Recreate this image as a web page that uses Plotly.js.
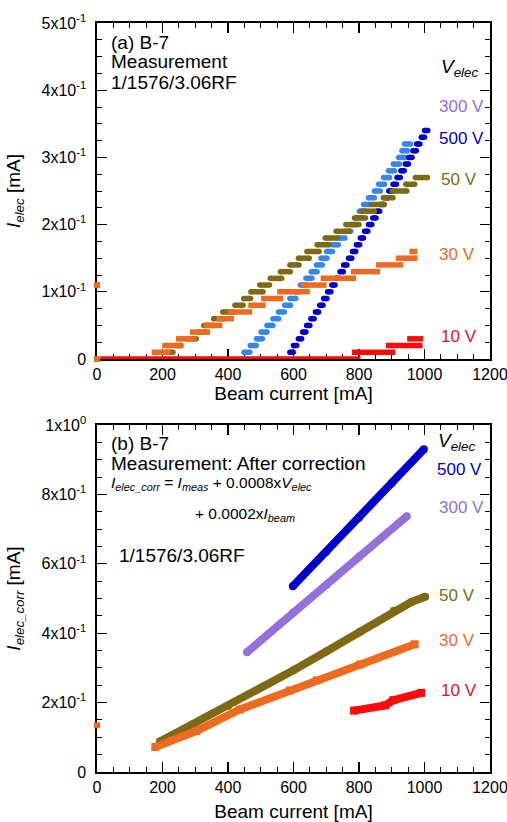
<!DOCTYPE html>
<html>
<head>
<meta charset="utf-8">
<script src="https://cdn.plot.ly/plotly-3.0.1.min.js"></script>
<style>html,body{margin:0;padding:0;background:#fff;}</style>
</head>
<body>
<div id="chart" style="width:507px;height:822px;"></div>
<script>
// ---------------- DATA: panel (a) measurement, quantised steps ----------------
// 10 V (red): step level [mA] and start/end beam current [mA]
const lv10 = [0, 0.01, 0.02, 0.03];
const st10 = [10, 778, 882, 947];
const en10 = [805, 910, 994, 996];
// 30 V (orange)
const lv30 = [0.01, 0.02, 0.03, 0.04, 0.05, 0.06, 0.07, 0.08, 0.09, 0.10, 0.11, 0.12, 0.13, 0.14, 0.15, 0.16];
const st30 = [167, 199, 241, 284, 325, 365, 399, 462, 501, 550, 622, 683, 775, 852, 912, 954];
const en30 = [225, 264, 304, 345, 383, 418, 474, 515, 569, 650, 701, 791, 864, 935, 978, 978];
const x30zero = [0, 0];
const y30zero = [0, 0.11];
// 50 V (olive)
const lv50 = [0.01, 0.02, 0.03, 0.04, 0.05, 0.06, 0.07, 0.08, 0.09, 0.10, 0.11, 0.12, 0.13, 0.14, 0.15, 0.16, 0.17, 0.18, 0.19, 0.20, 0.21, 0.22, 0.23, 0.24, 0.25, 0.26, 0.27];
const st50 = [213, 240, 278, 308, 326, 356, 384, 421, 448, 470, 497, 529, 560, 589, 615, 641, 672, 697, 730, 760, 786, 808, 838, 874, 901, 943, 972];
const en50 = [232, 256, 303, 332, 357, 388, 419, 446, 469, 507, 527, 564, 590, 617, 648, 678, 709, 734, 770, 800, 820, 847, 877, 904, 946, 970, 1009];
// 300 V (light blue): level and centre beam current of each short dash
const lv300 = [0.01, 0.02, 0.03, 0.04, 0.05, 0.06, 0.07, 0.08, 0.09, 0.10, 0.11, 0.12, 0.13, 0.14, 0.15, 0.16, 0.17, 0.18, 0.19, 0.20, 0.21, 0.22, 0.23, 0.24, 0.25, 0.26, 0.27, 0.28, 0.29, 0.30, 0.31, 0.32];
const cx300 = [458, 477, 496, 510, 528, 546, 563, 582, 598, 613, 630, 647, 663, 679, 693, 710, 728, 748, 766, 785, 800, 810, 823, 838, 856, 869, 884, 899, 914, 930, 940, 948];
// 500 V (dark blue)
const lv500 = [0.01, 0.02, 0.03, 0.04, 0.05, 0.06, 0.07, 0.08, 0.09, 0.10, 0.11, 0.12, 0.13, 0.14, 0.15, 0.16, 0.17, 0.18, 0.19, 0.20, 0.21, 0.22, 0.23, 0.24, 0.25, 0.26, 0.27, 0.28, 0.29, 0.30, 0.31, 0.32, 0.33, 0.34];
const cx500 = [594, 605, 620, 633, 645, 658, 672, 685, 697, 709, 722, 733, 747, 758, 773, 785, 797, 809, 822, 834, 847, 858, 871, 884, 896, 909, 921, 933, 946, 957, 970, 981, 995, 1005];

// ---------------- DATA: panel (b) after correction ----------------
const bx500 = [598, 700, 800, 900, 998];
const by500 = [0.535, 0.635, 0.733, 0.832, 0.93];
const bx300 = [458, 600, 702, 800, 946];
const by300 = [0.345, 0.46, 0.54, 0.62, 0.737];
const bx50 = [192, 400, 600, 700, 804, 906, 960, 1002];
const by50 = [0.088, 0.19, 0.293, 0.347, 0.405, 0.465, 0.49, 0.505];
const bx30 = [178, 303, 436, 589, 671, 804, 970];
const by30 = [0.072, 0.118, 0.18, 0.235, 0.264, 0.31, 0.368];
const bx30zero = [0];
const by30zero = [0.135];
const bx10 = [785, 880, 905, 990];
const by10 = [0.177, 0.192, 0.207, 0.228];

// tick labels
const xTicks = [0, 200, 400, 600, 800, 1000, 1200];
const yTicksA = [0, 0.1, 0.2, 0.3, 0.4, 0.5];
const yTextA = ['0', '1x10<sup>-1</sup>', '2x10<sup>-1</sup>', '3x10<sup>-1</sup>', '4x10<sup>-1</sup>', '5x10<sup>-1</sup>'];
const yTicksB = [0, 0.2, 0.4, 0.6, 0.8, 1.0];
const yTextB = ['0', '2x10<sup>-1</sup>', '4x10<sup>-1</sup>', '6x10<sup>-1</sup>', '8x10<sup>-1</sup>', '1x10<sup>0</sup>'];

// ---------------- colours ----------------
const C10 = '#FF0A0A', C30 = '#EE6A1E', C50 = '#7F6A14', C300 = '#3586EE', C300b = '#9370DB', C500 = '#0000CD';
const L10 = '#E8101E', L30 = '#EE6A1E', L50 = '#7F6A14', L300 = '#9370DB', L500 = '#0000CD';

function segs(starts, ends, levels) {
  const x = [], y = [];
  for (let i = 0; i < levels.length; i++) { x.push(starts[i], ends[i], null); y.push(levels[i], levels[i], null); }
  return {x, y};
}
function centred(centres, levels, half) {
  const x = [], y = [];
  for (let i = 0; i < levels.length; i++) { x.push(centres[i] - half, centres[i] + half, null); y.push(levels[i], levels[i], null); }
  return {x, y};
}

const s300 = centred(cx300, lv300, 9);
const s500 = centred(cx500, lv500, 5);
const s50 = segs(st50, en50, lv50);
const s30 = segs(st30, en30, lv30);
const s10 = segs(st10, en10, lv10);

const traces = [
  {x: s300.x, y: s300.y, xaxis: 'x', yaxis: 'y', mode: 'lines+markers', line: {color: C300, width: 5.5}, marker: {color: C300, size: 5.5}, hoverinfo: 'skip'},
  {x: s500.x, y: s500.y, xaxis: 'x', yaxis: 'y', mode: 'lines+markers', line: {color: C500, width: 5.5}, marker: {color: C500, size: 5.5}, hoverinfo: 'skip'},
  {x: s50.x, y: s50.y, xaxis: 'x', yaxis: 'y', mode: 'lines+markers', line: {color: C50, width: 5.5}, marker: {color: C50, size: 5.5}, hoverinfo: 'skip'},
  {x: s30.x, y: s30.y, xaxis: 'x', yaxis: 'y', mode: 'lines', line: {color: C30, width: 5.5}, hoverinfo: 'skip'},
  {x: s10.x, y: s10.y, xaxis: 'x', yaxis: 'y', mode: 'lines', line: {color: C10, width: 5.5}, hoverinfo: 'skip'},
  {x: x30zero, y: y30zero, xaxis: 'x', yaxis: 'y', mode: 'markers', cliponaxis: false, marker: {color: C30, size: 6, symbol: 'square'}, hoverinfo: 'skip'},

  {x: bx500, y: by500, xaxis: 'x2', yaxis: 'y2', mode: 'lines+markers', line: {color: C500, width: 8}, marker: {color: C500, size: 8}, hoverinfo: 'skip'},
  {x: bx300, y: by300, xaxis: 'x2', yaxis: 'y2', mode: 'lines+markers', line: {color: C300b, width: 8}, marker: {color: C300b, size: 8}, hoverinfo: 'skip'},
  {x: bx50, y: by50, xaxis: 'x2', yaxis: 'y2', mode: 'lines+markers', line: {color: C50, width: 8}, marker: {color: C50, size: 8}, hoverinfo: 'skip'},
  {x: bx30, y: by30, xaxis: 'x2', yaxis: 'y2', mode: 'lines+markers', line: {color: C30, width: 8}, marker: {color: C30, size: 8, symbol: 'square'}, hoverinfo: 'skip'},
  {x: bx10, y: by10, xaxis: 'x2', yaxis: 'y2', mode: 'lines+markers', line: {color: C10, width: 8}, marker: {color: C10, size: 8, symbol: 'square'}, hoverinfo: 'skip'},
  {x: bx30zero, y: by30zero, xaxis: 'x2', yaxis: 'y2', mode: 'markers', cliponaxis: false, marker: {color: C30, size: 6, symbol: 'square'}, hoverinfo: 'skip'}
];

const FONT = 'Arial, "Liberation Sans", sans-serif';
function xAxis(anchor, standoff) {
  return {
    anchor: anchor, domain: [0, 1], range: [0, 1200], tickmode: 'array', tickvals: xTicks,
    ticks: 'inside', ticklen: 10, tickwidth: 1.3, tickcolor: '#000', ticklabeloverflow: 'allow',
    minor: {tickmode: 'linear', tick0: 0, dtick: 50, ticks: 'inside', ticklen: 5, tickwidth: 1, tickcolor: '#000'},
    showline: true, linecolor: '#000', linewidth: 1.6, mirror: 'allticks', layer: 'below traces',
    showgrid: false, zeroline: false, tickfont: {size: 16, color: '#000'},
    title: {text: 'Beam current [mA]', font: {size: 19, color: '#000'}, standoff: standoff}
  };
}
function yAxis(anchor, domain, range, vals, text, minorD, title) {
  return {
    anchor: anchor, domain: domain, range: range, tickmode: 'array', tickvals: vals, ticktext: text,
    ticks: 'inside', ticklen: 10, tickwidth: 1.3, tickcolor: '#000', ticklabelstandoff: 6,
    minor: {tickmode: 'linear', tick0: 0, dtick: minorD, ticks: 'inside', ticklen: 5, tickwidth: 1, tickcolor: '#000'},
    showline: true, linecolor: '#000', linewidth: 1.6, mirror: 'allticks', layer: 'below traces',
    showgrid: false, zeroline: false, tickfont: {size: 16, color: '#000'},
    title: {text: title, font: {size: 19, color: '#000'}, standoff: 16}
  };
}

function ann(ax, x, y, text, color, size, xanchor) {
  return {xref: ax[0] + ' domain', yref: ax[1] + ' domain', x: x, y: y, text: text, showarrow: false,
          xanchor: xanchor || 'left', yanchor: 'middle', align: 'left',
          font: {family: FONT, size: size, color: color}};
}
const A = ['x', 'y'], B = ['x2', 'y2'];
const annotations = [
  ann(A, 0.03, 0.943, '(a) B-7', '#000', 19),
  ann(A, 0.03, 0.884, 'Measurement', '#000', 19),
  ann(A, 0.03, 0.824, '1/1576/3.06RF', '#000', 19),
  ann(A, 0.87, 0.865, '<i>V</i><sub><i>elec</i></sub>', '#000', 19),
  ann(A, 0.866, 0.751, '300 V', L300, 17),
  ann(A, 0.866, 0.657, '500 V', L500, 17),
  ann(A, 0.869, 0.533, '50 V', L50, 17),
  ann(A, 0.866, 0.3125, '30 V', L30, 17),
  ann(A, 0.871, 0.066, '10 V', L10, 17),

  ann(B, 0.03, 0.948, '(b) B-7', '#000', 19),
  ann(B, 0.03, 0.89, 'Measurement: After correction', '#000', 19),
  ann(B, 0.03, 0.832, '<i>I</i><sub><i>elec_corr</i></sub> = <i>I</i><sub><i>meas</i></sub> + 0.0008x<i>V</i><sub><i>elec</i></sub>', '#000', 15.5),
  ann(B, 0.245, 0.742, '+ 0.0002x<i>I</i><sub><i>beam</i></sub>', '#000', 15.5),
  ann(B, 0.05, 0.625, '1/1576/3.06RF', '#000', 19),
  ann(B, 0.862, 0.95, '<i>V</i><sub><i>elec</i></sub>', '#000', 19),
  ann(B, 0.86, 0.873, '500 V', L500, 17),
  ann(B, 0.866, 0.762, '300 V', L300, 17),
  ann(B, 0.866, 0.51, '50 V', L50, 17),
  ann(B, 0.866, 0.38, '30 V', L30, 17),
  ann(B, 0.87, 0.236, '10 V', L10, 17)
];

const layout = {
  width: 507, height: 822, margin: {l: 97, r: 17, t: 23, b: 50},
  paper_bgcolor: '#fff', plot_bgcolor: '#fff', showlegend: false,
  font: {family: FONT, color: '#000', size: 16},
  xaxis: xAxis('y', 4),
  yaxis: yAxis('x', [0.5514, 1], [0, 0.5], yTicksA, yTextA, 0.025, '<i>I</i><sub><i>elec</i></sub> [mA]'),
  xaxis2: xAxis('y2', 10),
  yaxis2: yAxis('x2', [0, 0.4633], [0, 1], yTicksB, yTextB, 0.05, '<i>I</i><sub><i>elec_corr</i></sub> [mA]'),
  annotations: annotations
};

Plotly.newPlot('chart', traces, layout, {displayModeBar: false, staticPlot: true}).then(function () {
  // let the step drawn on the zero line show its full thickness over the axis line
  document.querySelectorAll('.cartesianlayer g.plot').forEach(function (g) { g.removeAttribute('clip-path'); });
});
</script>
</body>
</html>
